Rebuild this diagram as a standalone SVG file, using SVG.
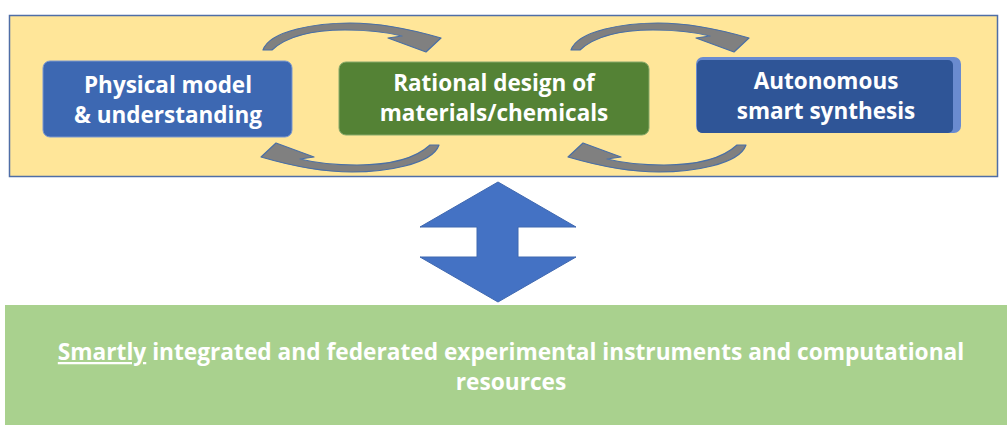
<svg xmlns="http://www.w3.org/2000/svg" width="1007" height="425" viewBox="0 0 1007 425">
<defs>
<style>
.t{font-family:"Open Sans","Liberation Sans",Arial,sans-serif;font-weight:bold;fill:#fff;text-anchor:middle}
.box{font-size:22.5px}
.cyc{fill:#808080;stroke:#4A6FA5;stroke-width:1.2;stroke-linejoin:round}
</style>
<path id="arcTop" d="M263,50 C270,30 318,23 350,23 C382,23 410,29 441,38 L426,52 L388,38 L402,36 C382,31 362,30 345,30 C312,30 286,37 272,50 Z"/>
</defs>
<rect x="0" y="0" width="1007" height="425" fill="#fff"/>
<g id="frame">
<rect x="9.5" y="15.5" width="988" height="161" fill="#FFE699" stroke="#4F6EA6" stroke-width="1.5"/>
</g>
<g id="connectors">
<use href="#arcTop" class="cyc"/>
<use href="#arcTop" class="cyc" transform="rotate(180 351 97.5)"/>
<use href="#arcTop" class="cyc" transform="translate(308 0)"/>
<use href="#arcTop" class="cyc" transform="translate(307 0) rotate(180 351 97.5)"/>
</g>
<g id="node-physical">
<rect x="43" y="61" width="249" height="76" rx="7" fill="#3D68B2" stroke="#7A97D0" stroke-width="1"/>
<text class="t box"><tspan x="168" y="93">Physical model</tspan><tspan x="168" y="123">&amp; understanding</tspan></text>
</g>
<g id="node-rational">
<rect x="339" y="62" width="310" height="73" rx="7" fill="#548235" stroke="#86A96A" stroke-width="1"/>
<text class="t box"><tspan x="494" y="90.5">Rational design of</tspan><tspan x="494" y="120.5">materials/chemicals</tspan></text>
</g>
<g id="node-autonomous">
<rect x="696" y="57" width="265" height="76" rx="7" fill="#6A8BCF"/>
<rect x="697" y="60" width="256" height="73" rx="5" fill="#2F5597"/>
<text class="t box"><tspan x="826" y="89">Autonomous</tspan><tspan x="826" y="119">smart synthesis</tspan></text>
</g>
<g id="double-arrow">
<polygon points="498,182 576,227 518,227 518,257 576,257 498,302 420,257 477,257 477,227 420,227" fill="#4472C4" stroke="#3F68B0" stroke-width="1"/>
</g>
<g id="node-infrastructure">
<rect x="5" y="305" width="1002" height="120" fill="#A9D18E"/>
<text class="t" font-size="22.7"><tspan x="511" y="360"><tspan text-decoration="underline">Smartly</tspan> integrated and federated experimental instruments and computational</tspan><tspan x="511" y="390">resources</tspan></text>
</g>
</svg>
